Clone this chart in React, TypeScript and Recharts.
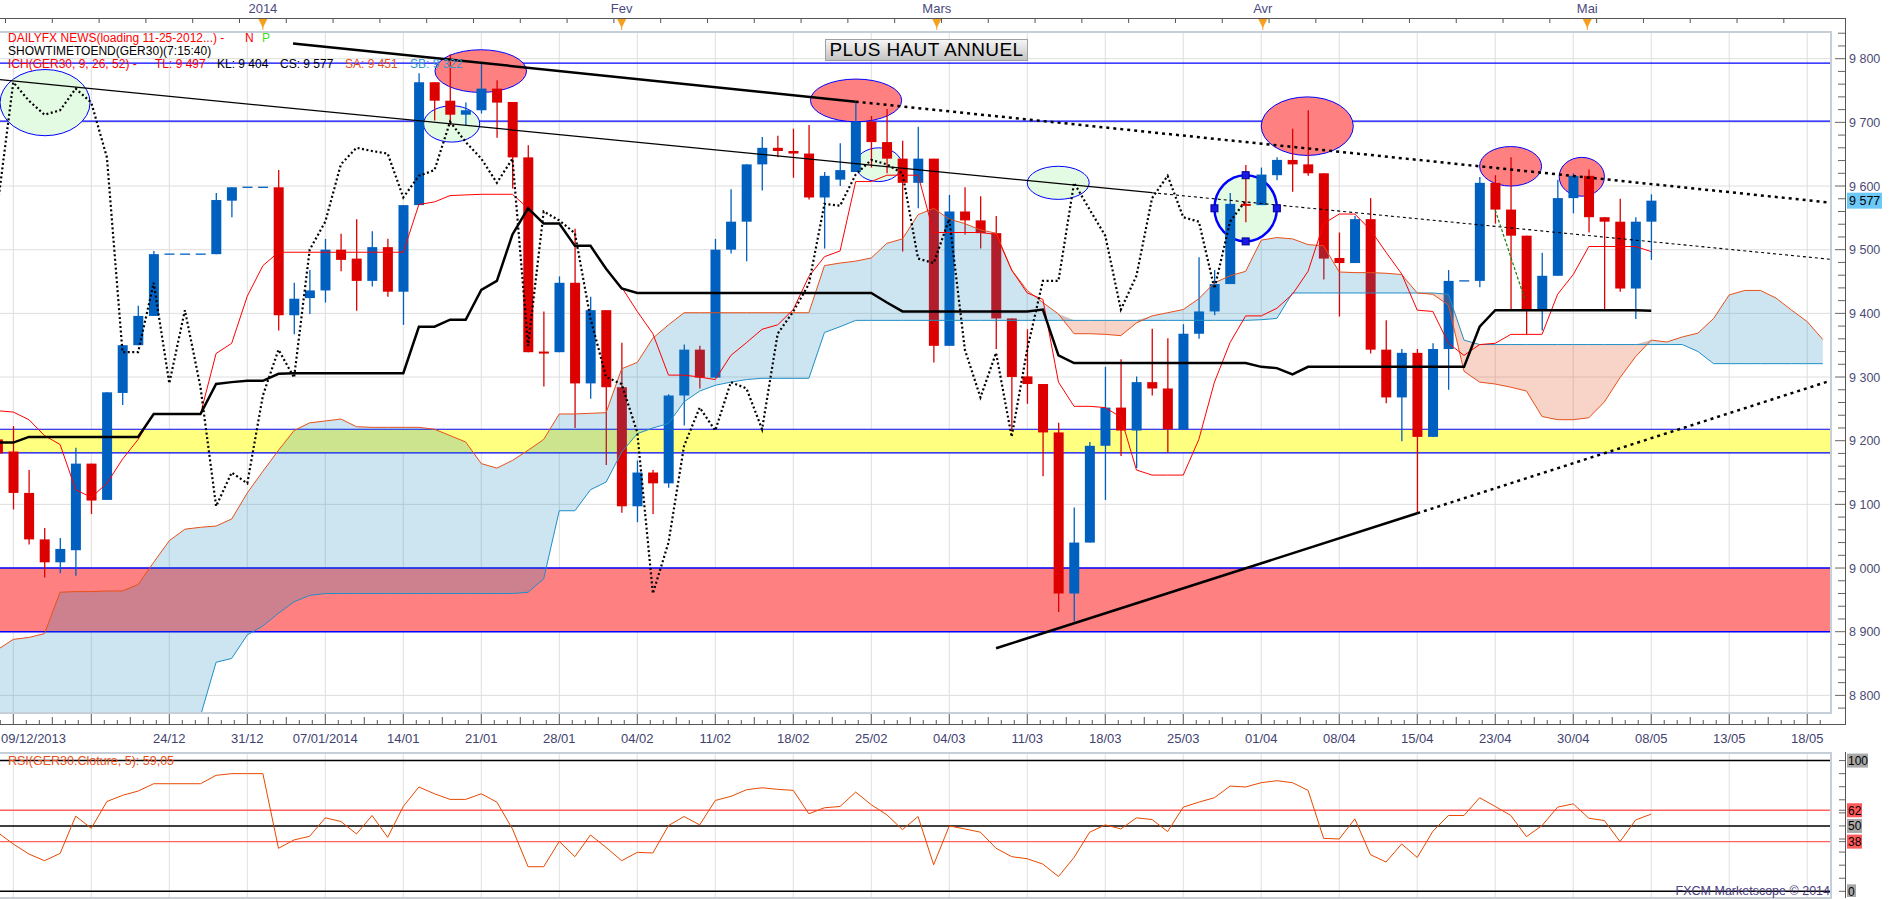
import React from 'react';
import {
  ComposedChart, Bar, Line, Area, XAxis, YAxis, CartesianGrid,
  ReferenceLine, ReferenceArea, ReferenceDot,
} from 'recharts';

// GER30 daily, one slot per trading day. Slot 0 = 09/12/2013, arrays start at slot -1.
const FIRST_SLOT = -1;

const open = [
  9202, 9183, 9118, 9045, 9009, 9028, 9164, 9107, 9275, 9350,
  9396, 9493, 9493, 9493, 9493, 9577, 9598, 9598, 9598, 9397,
  9424, 9436, 9500, 9486, 9451, 9504, 9434, 9570, 9763, 9734,
  9712, 9719, 9753, 9732, 9645, 9340, 9339, 9448, 9290, 9405,
  9284, 9097, 9150, 9133, 9271, 9343, 9299, 9500, 9544, 9634,
  9660, 9655, 9651, 9582, 9610, 9622, 9701, 9669, 9643, 9605,
  9643, 9349, 9560, 9546, 9526, 9392, 9301, 9289, 9213, 8960,
  9040, 9192, 9252, 9216, 9292, 9282, 9218, 9368, 9403, 9446,
  9572, 9570, 9617, 9641, 9634, 9620, 9487, 9479, 9548, 9343,
  9268, 9338, 9206, 9344, 9451, 9451, 9605, 9563, 9522, 9406,
  9459, 9581, 9616, 9551, 9544, 9439, 9544,
];
const high = [
  9212, 9223, 9154, 9063, 9047, 9189, 9164, 9276, 9350, 9412,
  9498, 9493, 9493, 9493, 9589, 9598, 9598, 9598, 9625, 9448,
  9468, 9517, 9525, 9548, 9529, 9517, 9570, 9777, 9763, 9807,
  9731, 9793, 9766, 9732, 9664, 9403, 9458, 9533, 9426, 9405,
  9354, 9169, 9154, 9273, 9351, 9349, 9517, 9595, 9634, 9677,
  9679, 9690, 9696, 9622, 9667, 9731, 9710, 9721, 9671, 9693,
  9643, 9586, 9598, 9584, 9553, 9392, 9375, 9289, 9228, 9095,
  9198, 9316, 9328, 9301, 9376, 9361, 9383, 9488, 9468, 9589,
  9633, 9629, 9645, 9690, 9719, 9620, 9527, 9553, 9581, 9389,
  9344, 9344, 9353, 9468, 9451, 9614, 9617, 9645, 9522, 9495,
  9610, 9620, 9626, 9551, 9580, 9551, 9587,
];
const low = [
  9168, 9092, 9037, 8985, 8992, 8988, 9085, 9107, 9256, 9350,
  9396, 9493, 9493, 9493, 9493, 9551, 9598, 9598, 9373, 9367,
  9399, 9417, 9466, 9404, 9442, 9426, 9382, 9570, 9703, 9696,
  9696, 9714, 9676, 9596, 9339, 9285, 9339, 9220, 9266, 9162,
  9087, 9072, 9085, 9126, 9224, 9282, 9299, 9494, 9482, 9593,
  9645, 9613, 9579, 9502, 9600, 9622, 9629, 9620, 9497, 9565,
  9323, 9349, 9524, 9502, 9344, 9215, 9258, 9144, 8931, 8916,
  9040, 9107, 9176, 9157, 9271, 9182, 9218, 9360, 9397, 9446,
  9543, 9570, 9609, 9591, 9616, 9453, 9395, 9479, 9337, 9259,
  9199, 9087, 9206, 9280, 9451, 9441, 9541, 9406, 9367, 9373,
  9459, 9557, 9527, 9405, 9434, 9391, 9484,
];
const close = [
  9180, 9118, 9045, 9009, 9030, 9164, 9106, 9276, 9350, 9396,
  9493, 9493, 9493, 9493, 9578, 9598, 9598, 9598, 9397, 9423,
  9436, 9500, 9484, 9451, 9504, 9434, 9570, 9763, 9734, 9712,
  9719, 9753, 9731, 9645, 9339, 9339, 9448, 9290, 9405, 9284,
  9097, 9150, 9133, 9271, 9343, 9299, 9500, 9544, 9634, 9660,
  9655, 9651, 9582, 9616, 9625, 9701, 9669, 9643, 9605, 9643,
  9349, 9560, 9546, 9526, 9392, 9300, 9289, 9213, 8960, 9040,
  9192, 9252, 9216, 9292, 9282, 9218, 9368, 9403, 9446, 9572,
  9569, 9618, 9641, 9634, 9620, 9486, 9479, 9548, 9343, 9268,
  9338, 9206, 9344, 9451, 9451, 9605, 9563, 9522, 9406, 9459,
  9581, 9616, 9551, 9544, 9439, 9544, 9577,
];

// Ichimoku(9, 26, 52) lines as drawn on the chart
const tenkan = [
  9247, 9245, 9233, 9208, 9194, 9123, 9111, 9133, 9171, 9202,
  9242, 9242, 9242, 9242, 9337, 9353, 9427, 9475, 9496, 9496,
  9496, 9496, 9496, 9496, 9496, 9496, 9496, 9571, 9575, 9585,
  9586, 9587, 9587, 9587, 9565, 9541, 9541, 9506, 9506, 9470,
  9441, 9403, 9368, 9303, 9303, 9300, 9296, 9334, 9354, 9375,
  9382, 9406, 9458, 9489, 9498, 9607, 9607, 9617, 9617, 9617,
  9527, 9527, 9527, 9527, 9524, 9468, 9432, 9422, 9292, 9254,
  9254, 9252, 9237, 9154, 9146, 9146, 9146, 9202, 9292, 9354,
  9396, 9396, 9408, 9430, 9466, 9541, 9556, 9556, 9531, 9496,
  9462, 9405, 9403, 9353, 9334, 9351, 9353, 9367, 9367, 9367,
  9430, 9461, 9505, 9505, 9505, 9505, 9497,
];
const kijun = [
  9197, 9197, 9206, 9206, 9206, 9206, 9206, 9206, 9206, 9206,
  9242, 9242, 9242, 9242, 9289, 9292, 9294, 9294, 9305, 9306,
  9306, 9306, 9306, 9306, 9306, 9306, 9306, 9379, 9379, 9390,
  9390, 9437, 9451, 9524, 9565, 9541, 9541, 9506, 9506, 9470,
  9439, 9432, 9432, 9432, 9432, 9432, 9432, 9432, 9432, 9432,
  9432, 9432, 9432, 9432, 9432, 9432, 9432, 9417, 9403, 9403,
  9403, 9403, 9403, 9403, 9403, 9403, 9403, 9406, 9334, 9322,
  9322, 9322, 9322, 9322, 9322, 9322, 9322, 9322, 9322, 9322,
  9322, 9316, 9314, 9304, 9316, 9316, 9316, 9316, 9316, 9316,
  9316, 9316, 9316, 9316, 9316, 9379, 9405, 9405, 9405, 9405,
  9405, 9405, 9405, 9405, 9405, 9405, 9404,
];
// senkou spans run 11 slots past the last candle (to slot 116)
const senkouA = [
  8872, 8888, 8891, 8897, 8962, 8963, 8963, 8964, 8964, 8974,
  9009, 9043, 9061, 9064, 9066, 9077, 9118, 9152, 9185, 9216,
  9228, 9231, 9234, 9222, 9221, 9221, 9221, 9221, 9218, 9208,
  9198, 9164, 9157, 9169, 9185, 9202, 9242, 9242, 9243, 9244,
  9313, 9323, 9361, 9382, 9401, 9401, 9401, 9401, 9401, 9401,
  9401, 9401, 9401, 9475, 9479, 9482, 9487, 9510, 9517, 9555,
  9565, 9548, 9541, 9531, 9526, 9468, 9436, 9417, 9399, 9368,
  9368, 9367, 9365, 9385, 9396, 9401, 9406, 9423, 9448, 9459,
  9466, 9515, 9519, 9517, 9508, 9506, 9465, 9464, 9464, 9463,
  9461, 9432, 9430, 9413, 9309, 9292, 9289, 9284, 9278, 9238,
  9233, 9233, 9236, 9261, 9299, 9332, 9358, 9355, 9363, 9369,
  9392, 9429, 9436, 9436, 9424, 9405, 9387, 9359,
];
const senkouB = [
  8700, 8700, 8700, 8700, 8700, 8700, 8700, 8700, 8700, 8700,
  8700, 8700, 8700, 8768, 8852, 8858, 8895, 8909, 8929, 8947,
  8957, 8960, 8960, 8960, 8960, 8960, 8960, 8960, 8960, 8960,
  8960, 8960, 8960, 8960, 8962, 8983, 9090, 9090, 9123, 9135,
  9182, 9211, 9220, 9227, 9261, 9278, 9287, 9292, 9296, 9298,
  9298, 9298, 9298, 9370, 9379, 9389, 9389, 9389, 9389, 9389,
  9389, 9389, 9389, 9389, 9389, 9389, 9389, 9389, 9389, 9389,
  9389, 9389, 9389, 9389, 9389, 9389, 9389, 9389, 9389, 9389,
  9389, 9390, 9392, 9432, 9432, 9432, 9432, 9432, 9432, 9432,
  9432, 9432, 9432, 9430, 9358, 9351, 9351, 9351, 9351, 9351,
  9351, 9351, 9351, 9351, 9351, 9351, 9351, 9351, 9351, 9340,
  9321, 9321, 9321, 9321, 9321, 9321, 9321, 9321,
];
const CHIKOU_SHIFT = 26;

// RSI(GER30.Cloture, 5)
const rsi = [
  45, 36.2, 28.5, 23.4, 29.0, 57.5, 48.2, 68.7, 73.4, 76.7,
  82.3, 82.3, 82.3, 82.3, 88.7, 90, 90, 90, 32.9, 39.3,
  42.1, 56.2, 53.4, 43.9, 58.0, 41.3, 64.9, 79.8, 74.6, 70.3,
  70.3, 74.6, 68.2, 47.7, 18.8, 18.8, 38.2, 26.5, 43.1, 33.6,
  23.4, 29.8, 29.3, 50.3, 57.2, 50.8, 69.5, 72.6, 77.7, 79.2,
  78.0, 77.2, 59.3, 63.9, 64.9, 75.9, 66.2, 58.5, 47.2, 57.2,
  20.3, 50.0, 47.7, 45.2, 32.9, 26.5, 24.9, 20.8, 11.3, 25.9,
  45.2, 50.8, 47.7, 56.2, 54.9, 45.7, 64.4, 68.2, 71.6, 80.5,
  79.8, 83.1, 84.6, 83.1, 77.2, 40.5, 40.0, 55.4, 28.0, 22.4,
  36.2, 25.9, 45.9, 58.0, 58.0, 71.6, 64.9, 58.0, 41.8, 50.3,
  64.4, 66.9, 55.9, 54.1, 38.0, 54.6, 59.05,
];

// bottom axis: one label per week (slot 0, 5, 10, ...)
const weekLabels = [
  '09/12/2013', '', '24/12', '31/12', '07/01/2014', '14/01', '21/01', '28/01',
  '04/02', '11/02', '18/02', '25/02', '04/03', '11/03', '18/03', '25/03',
  '01/04', '08/04', '15/04', '23/04', '30/04', '08/05', '13/05', '18/05',
];
// top axis: month starts
const monthSlots = [16, 39, 59.2, 80.1, 100.9];
const monthLabels = ['2014', 'Fev', 'Mars', 'Avr', 'Mai'];

// drawn levels
const resistance = [9793, 9702];
const yellowZone = [9181, 9218];
const redZone = [8900, 9000];

// drawn trendlines, [slot, price]: start, end of solid part, end of dotted part
const trendHigh = [[17.93, 9824], [54, 9732.5], [116.46, 9574]];
const trendMid = [[-0.853, 9767], [73, 9589.5], [116.46, 9485]];
const trendLow = [[63, 8874], [90, 9086], [116.46, 9294]];
const greenStroke = [[95, 9562], [96.9, 9422]];

// ellipses: slot range and price range
const ellipses = [
  { x1: -0.85, x2: 4.92, y1: 9679, y2: 9783, kind: 'green' },
  { x1: 27.03, x2: 32.9, y1: 9747, y2: 9814, kind: 'red' },
  { x1: 26.3, x2: 29.9, y1: 9669, y2: 9726, kind: 'green' },
  { x1: 51.1, x2: 56.95, y1: 9701, y2: 9768, kind: 'red' },
  { x1: 54.0, x2: 56.95, y1: 9607, y2: 9660, kind: 'green' },
  { x1: 65.0, x2: 68.97, y1: 9579, y2: 9631, kind: 'green' },
  { x1: 77.0, x2: 81.0, y1: 9513, y2: 9617, kind: 'selected' },
  { x1: 80.0, x2: 85.9, y1: 9648, y2: 9740, kind: 'red' },
  { x1: 94.0, x2: 97.97, y1: 9600, y2: 9662, kind: 'red' },
  { x1: 99.1, x2: 102.0, y1: 9584, y2: 9645, kind: 'red' },
];
const handles = [[79, 9617], [79, 9513], [77, 9565], [81, 9565]];

const W = 1903;
const AXIS_X = 1845;
const X_DOMAIN: [number, number] = [-0.853, 116.46];
const PRICE_DOMAIN: [number, number] = [8773.9, 9841.9];
const RSI_DOMAIN: [number, number] = [-4.36, 105.8];
const FONT = '"Liberation Sans", Arial, sans-serif';
const BLUE = '#0060c0';
const RED = '#dc0000';
const lastClose = close[close.length - 1];

const rows = senkouA.map((sa, i) => {
  const has = i < close.length;
  const sb = senkouB[i];
  const ch = close[i + CHIKOU_SHIFT];
  return {
    k: FIRST_SLOT + i,
    range: has ? [low[i], high[i]] : null,
    o: has ? open[i] : null,
    h: has ? high[i] : null,
    l: has ? low[i] : null,
    c: has ? close[i] : null,
    tenkan: has ? tenkan[i] : null,
    kijun: has ? kijun[i] : null,
    chikou: ch === undefined ? null : ch,
    sa,
    sb,
    bull: [sb, Math.max(sa, sb)],
    bear: [sa, Math.max(sa, sb)],
    rsi: has ? rsi[i] : null,
  };
});

const weekSlots = weekLabels.map((_, i) => i * 5);
const bottomTicks: number[] = [];
for (let w = -1; w < weekLabels.length; w++) {
  for (let j = 0; j < 6; j++) {
    const v = w * 5 + (j * 5) / 6;
    if (v >= X_DOMAIN[0] && v <= X_DOMAIN[1]) bottomTicks.push(v);
  }
}
const topTicks: number[] = [...monthSlots];
for (let v = -0.5; v < X_DOMAIN[1]; v += 3) topTicks.push(v);
const priceTicks: number[] = [];
for (let p = 8780; p <= 9840; p += 20) priceTicks.push(p);
priceTicks.push(lastClose);
const priceGrid = [8800, 8900, 9000, 9100, 9200, 9300, 9400, 9500, 9600, 9700, 9800];
const rsiTicks = [0, 10, 20, 30, 38, 40, 50, 60, 62, 70, 80, 90, 100];

const fmtPrice = (v: number) =>
  `${Math.floor(v / 1000)} ${String(Math.round(v % 1000)).padStart(3, '0')}`;

function Candle(props: any) {
  const { x, y, width, height, payload } = props;
  if (!payload || payload.o == null) return <g />;
  const { o, h, l, c } = payload;
  const cx = x + width / 2;
  const span = h - l;
  if (span === 0) {
    return <line x1={cx - 5} x2={cx + 5} y1={y} y2={y} stroke={BLUE} strokeWidth={1.3} />;
  }
  const py = (p: number) => y + ((h - p) / span) * height;
  const color = c >= o ? BLUE : RED;
  const top = py(Math.max(o, c));
  const bot = py(Math.min(o, c));
  return (
    <g>
      <line x1={cx} x2={cx} y1={y} y2={y + height} stroke={color} strokeWidth={1.3} />
      <rect x={cx - 5} y={top} width={10} height={Math.max(bot - top, 2)} fill={color} />
    </g>
  );
}

function EllipseShape(props: any) {
  const { x, y, width, height, kind } = props;
  if (x == null || width == null) return <g />;
  const fill = kind === 'red' ? '#ff8080' : '#e3fbe3';
  return (
    <ellipse
      cx={x + width / 2}
      cy={y + height / 2}
      rx={Math.abs(width) / 2}
      ry={Math.abs(height) / 2}
      fill={fill}
      stroke="#0000ff"
      strokeWidth={kind === 'selected' ? 2.5 : 1}
    />
  );
}

function PriceTick(props: any) {
  const { y, payload } = props;
  const v = payload.value;
  if (v === lastClose) {
    return (
      <g>
        <rect x={AXIS_X + 2} y={y - 8} width={35} height={16} fill="#6cc9f7" />
        <text x={AXIS_X + 4} y={y + 4.5} fontSize={12.5} fill="#000" fontFamily={FONT}>{fmtPrice(v)}</text>
      </g>
    );
  }
  const major = v % 100 === 0;
  return (
    <g>
      <line x1={AXIS_X - (major ? 10 : 7)} x2={AXIS_X} y1={y} y2={y} stroke="#666" />
      {major && (
        <text x={AXIS_X + 4} y={y + 4.5} fontSize={12.5} fill="#4b4b73" fontFamily={FONT}>{fmtPrice(v)}</text>
      )}
    </g>
  );
}

function BottomTick(props: any) {
  const { x, payload } = props;
  const v: number = payload.value;
  const pos = ((v % 5) + 5) % 5;
  const j = Math.round(pos / (5 / 6)) % 6;
  const len = j === 0 ? 12 : j === 3 ? 7 : 4;
  const wi = Math.round(v / 5);
  const label = j === 0 ? weekLabels[wi] : '';
  const first = wi === 0;
  return (
    <g>
      <line x1={x} x2={x} y1={724 - len} y2={724} stroke="#555" />
      {label && (
        <text x={first ? 1 : x} y={742.5} textAnchor={first ? 'start' : 'middle'} fontSize={13} fill="#3f4270" fontFamily={FONT}>
          {label}
        </text>
      )}
    </g>
  );
}

function TopTick(props: any) {
  const { x, payload } = props;
  const mi = monthSlots.indexOf(payload.value);
  if (mi < 0) return <line x1={x} x2={x} y1={18} y2={23} stroke="#555" />;
  return (
    <g>
      <line x1={x} x2={x} y1={18} y2={30} stroke="#f0a030" />
      <polygon points={`${x - 4.5},19 ${x + 4.5},19 ${x},28`} fill="#f5a020" />
      <text x={x} y={13} textAnchor="middle" fontSize={13} fill="#4a4a80" fontFamily={FONT}>{monthLabels[mi]}</text>
    </g>
  );
}

function RsiTick(props: any) {
  const { y, payload } = props;
  const v = payload.value;
  const labelled = v === 0 || v === 50 || v === 100 || v === 62 || v === 38;
  const bg = v === 62 || v === 38 ? '#ff5a5a' : '#a8a8a8';
  const w = v === 100 ? 21 : v === 0 ? 9 : 15;
  return (
    <g>
      <line x1={AXIS_X - 6} x2={AXIS_X} y1={y} y2={y} stroke="#666" />
      {labelled && <rect x={AXIS_X + 2} y={y - 7} width={w} height={14} fill={bg} />}
      {labelled && (
        <text x={AXIS_X + 3} y={y + 4.5} fontSize={12} fill="#000" fontFamily={FONT}>{v}</text>
      )}
    </g>
  );
}

const hidden = { position: 'absolute' as const, pointerEvents: 'none' as const };

export default function App() {
  return (
    <div style={{ position: 'absolute', left: 0, top: 0, width: W, height: 900, background: '#fff', overflow: 'hidden', fontFamily: FONT }}>
      <ComposedChart width={W} height={760} data={rows} margin={{ top: 0, right: 0, bottom: 0, left: 0 }}>
        <CartesianGrid stroke="#dedede" horizontalValues={priceGrid} verticalValues={weekSlots} />
        <XAxis xAxisId="top" orientation="top" dataKey="k" type="number" domain={X_DOMAIN} allowDataOverflow
          ticks={topTicks} interval={0} height={32} axisLine={false} tickLine={false} tick={TopTick} />
        <XAxis dataKey="k" type="number" domain={X_DOMAIN} allowDataOverflow ticks={bottomTicks} interval={0}
          height={48} axisLine={false} tickLine={false} tick={BottomTick} />
        <YAxis orientation="right" width={73} type="number" domain={PRICE_DOMAIN} allowDataOverflow
          ticks={priceTicks} interval={0} axisLine={false} tickLine={false} tick={PriceTick} />

        <ReferenceArea y1={redZone[0]} y2={redZone[1]} fill="#ff8080" fillOpacity={1} stroke="none" ifOverflow="hidden" zIndex={10} />
        <ReferenceArea y1={yellowZone[0]} y2={yellowZone[1]} fill="#ffff80" fillOpacity={1} stroke="none" ifOverflow="hidden" zIndex={10} />
        {[...redZone, ...yellowZone].map((p) => (
          <ReferenceLine key={`z${p}`} y={p} stroke="#0000ff" strokeWidth={redZone.includes(p) ? 1.6 : 1.2} ifOverflow="hidden" zIndex={20} />
        ))}
        {resistance.map((p) => (
          <ReferenceLine key={`r${p}`} y={p} stroke="#0000ff" strokeWidth={1.3} ifOverflow="hidden" zIndex={20} />
        ))}
        {ellipses.map((e, i) => (
          <ReferenceArea key={`e${i}`} x1={e.x1} x2={e.x2} y1={e.y1} y2={e.y2} ifOverflow="hidden" zIndex={30}
            shape={(p: any) => <EllipseShape {...p} kind={e.kind} />} />
        ))}

        <Bar dataKey="range" barSize={10} shape={Candle} isAnimationActive={false} zIndex={300} />

        <Area dataKey="bull" type="linear" stroke="none" fill="rgb(27,132,191)" fillOpacity={0.22}
          isAnimationActive={false} dot={false} activeDot={false} zIndex={320} />
        <Area dataKey="bear" type="linear" stroke="none" fill="#e0541e" fillOpacity={0.25}
          isAnimationActive={false} dot={false} activeDot={false} zIndex={320} />
        <Line dataKey="sb" type="linear" stroke="#1f8fc8" strokeWidth={1} dot={false} activeDot={false} isAnimationActive={false} zIndex={330} />
        <Line dataKey="sa" type="linear" stroke="#e8501a" strokeWidth={1} dot={false} activeDot={false} isAnimationActive={false} zIndex={330} />
        <Line dataKey="tenkan" type="linear" stroke="#ff0000" strokeWidth={1} dot={false} activeDot={false} isAnimationActive={false} zIndex={340} />
        <Line dataKey="kijun" type="linear" stroke="#000" strokeWidth={2.5} dot={false} activeDot={false} isAnimationActive={false} zIndex={340} />
        <Line dataKey="chikou" type="linear" stroke="#000" strokeWidth={2.2} strokeDasharray="2 2.5" dot={false} activeDot={false} isAnimationActive={false} zIndex={340} />

        {[trendHigh, trendLow].map((t, i) => (
          <React.Fragment key={`t${i}`}>
            <ReferenceLine segment={[{ x: t[0][0], y: t[0][1] }, { x: t[1][0], y: t[1][1] }]} stroke="#000" strokeWidth={2.5} ifOverflow="hidden" zIndex={360} />
            <ReferenceLine segment={[{ x: t[1][0], y: t[1][1] }, { x: t[2][0], y: t[2][1] }]} stroke="#000" strokeWidth={2.5} strokeDasharray="3 4" ifOverflow="hidden" zIndex={360} />
          </React.Fragment>
        ))}
        <ReferenceLine segment={[{ x: trendMid[0][0], y: trendMid[0][1] }, { x: trendMid[1][0], y: trendMid[1][1] }]} stroke="#000" strokeWidth={1.2} ifOverflow="hidden" zIndex={360} />
        <ReferenceLine segment={[{ x: trendMid[1][0], y: trendMid[1][1] }, { x: trendMid[2][0], y: trendMid[2][1] }]} stroke="#000" strokeWidth={1.1} strokeDasharray="3 3" ifOverflow="hidden" zIndex={360} />
        <ReferenceLine segment={[{ x: greenStroke[0][0], y: greenStroke[0][1] }, { x: greenStroke[1][0], y: greenStroke[1][1] }]} stroke="#108010" strokeWidth={1.2} strokeDasharray="3 2" ifOverflow="hidden" zIndex={360} />
        {handles.map((hd, i) => (
          <ReferenceDot key={`h${i}`} x={hd[0]} y={hd[1]} r={3} ifOverflow="hidden" zIndex={370}
            shape={(p: any) => <rect x={p.cx - 3.5} y={p.cy - 3.5} width={7} height={7} fill="#1818e8" stroke="#000090" />} />
        ))}
      </ComposedChart>

      <div style={{ position: 'absolute', left: 0, top: 753, background: '#fff' }}>
        <ComposedChart width={W} height={144} data={rows} margin={{ top: 0, right: 0, bottom: 0, left: 0 }}>
          <CartesianGrid stroke="#e0e0e0" horizontal={false} verticalValues={weekSlots} />
          <XAxis dataKey="k" type="number" domain={X_DOMAIN} allowDataOverflow ticks={weekSlots} hide />
          <YAxis orientation="right" width={73} type="number" domain={RSI_DOMAIN} allowDataOverflow
            ticks={rsiTicks} interval={0} axisLine={false} tickLine={false} tick={RsiTick} />
          {[100, 50, 0].map((v) => (
            <ReferenceLine key={`b${v}`} y={v} stroke="#000" strokeWidth={1.5} />
          ))}
          {[62, 38].map((v) => (
            <ReferenceLine key={`o${v}`} y={v} stroke="#ff6060" strokeWidth={1.3} />
          ))}
          <Line dataKey="rsi" type="linear" stroke="#e84800" strokeWidth={1} dot={false} activeDot={false} isAnimationActive={false} />
        </ComposedChart>
      </div>

      {/* frames and rulers */}
      <div style={{ ...hidden, left: -2, top: 31, width: 1830, height: 679, border: '2px solid #c6ced8' }} />
      <div style={{ ...hidden, left: -2, top: 752, width: 1830, height: 143, border: '2px solid #c6ced8' }} />
      <div style={{ ...hidden, left: 0, top: 18, width: AXIS_X + 1, height: 1, background: '#555' }} />
      <div style={{ ...hidden, left: 0, top: 724, width: AXIS_X + 1, height: 1, background: '#555' }} />
      <div style={{ ...hidden, left: AXIS_X, top: 18, width: 1, height: 707, background: '#555' }} />
      <div style={{ ...hidden, left: AXIS_X, top: 752, width: 1, height: 146, background: '#555' }} />

      {/* indicator captions */}
      <div style={{ ...hidden, left: 8, top: 32, width: 480, fontSize: 12, lineHeight: '13px', whiteSpace: 'pre' }}>
        <div style={{ position: 'relative', height: 13 }}>
          <span style={{ position: 'absolute', left: 0, color: '#ff0000' }}>DAILYFX NEWS(loading 11-25-2012...) -</span>
          <span style={{ position: 'absolute', left: 237, color: '#ff0000' }}>N</span>
          <span style={{ position: 'absolute', left: 254, color: '#44dd22' }}>P</span>
        </div>
        <div style={{ color: '#000' }}>SHOWTIMETOEND(GER30)(7:15:40)</div>
        <div style={{ position: 'relative', height: 13 }}>
          <span style={{ position: 'absolute', left: 0, color: '#ff0000' }}>ICH(GER30, 9, 26, 52) -</span>
          <span style={{ position: 'absolute', left: 147, color: '#ff0000' }}>TL: 9 497</span>
          <span style={{ position: 'absolute', left: 209, color: '#000' }}>KL: 9 404</span>
          <span style={{ position: 'absolute', left: 272, color: '#000' }}>CS: 9 577</span>
          <span style={{ position: 'absolute', left: 337, color: '#e8501a' }}>SA: 9 451</span>
          <span style={{ position: 'absolute', left: 402, color: '#3399cc' }}>SB: 9 322</span>
        </div>
      </div>
      <div style={{
        ...hidden, left: 825, top: 39, width: 203, height: 22, boxSizing: 'border-box',
        background: 'linear-gradient(#f6f6f6, #c4c4c4)', border: '1px solid #a0a0a0',
        fontSize: 19, lineHeight: '20px', textAlign: 'center', color: '#000', letterSpacing: 0.4,
      }}>
        PLUS HAUT ANNUEL
      </div>
      <div style={{ ...hidden, left: 8, top: 754, fontSize: 12.5, lineHeight: '14px', color: '#e8501a' }}>
        RSI(GER30.Cloture, 5): 59,05
      </div>
      <div style={{ ...hidden, left: 1580, width: 250, top: 884, fontSize: 12.5, lineHeight: '14px', color: '#4a3c80', textAlign: 'right' }}>
        FXCM Marketscope © 2014
      </div>
    </div>
  );
}
